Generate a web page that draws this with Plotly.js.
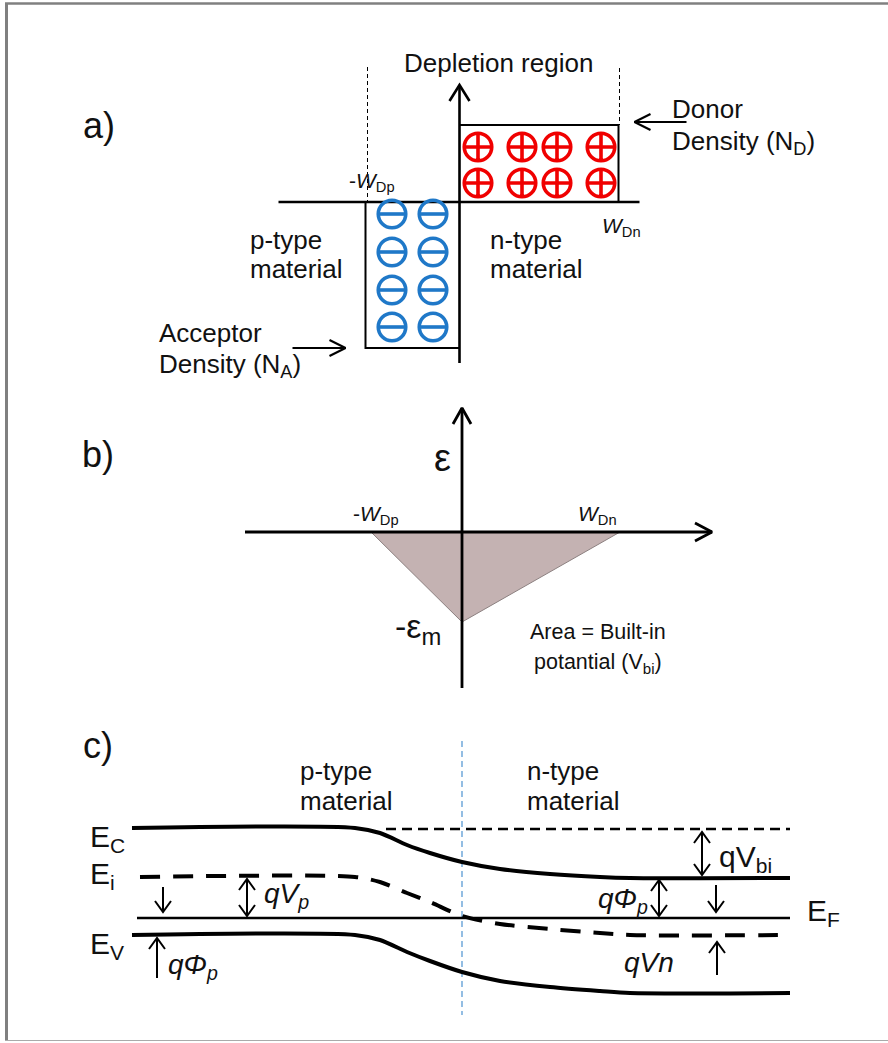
<!DOCTYPE html>
<html><head><meta charset="utf-8">
<script src="https://cdn.plot.ly/plotly-3.0.1.min.js"></script>
<style>html,body{margin:0;padding:0;background:#fff;overflow:hidden}</style>
</head><body><div id="chart" style="width:888px;height:1043px"></div>
<script>
// ===== Panel a: space-charge density (x: position from junction, y: charge density) =====
const depletionEdgesA = [-94, 159];      // -W_Dp , W_Dn
const chargeDensityA  = [-146, 77];      // -qN_A , +qN_D
const donorX    = [18.5, 62.5, 97.5, 141.5];
const donorY    = [55, 19];
const acceptorX = [-67.5, -26.5];
const acceptorY = [-12, -50, -88, -125];
const axisAx = [-181, 180];
const axisAy = [-161, 117];
const depletionMarkTop = 135;

// ===== Panel b: electric field =====
const fieldX = [-91, 0, 158];
const fieldE = [0, -90, 0];
const axisBx = [-217, 250];
const axisBy = [-156, 124];

// ===== Panel c: band diagram (energy relative to E_F) =====
const bandX  = [-330, -107, -82, -55, -32, 0, 38, 88, 138, 168, 328];
const Ec     = [90, 90, 85, 73, 65, 56, 49, 44, 41, 40, 40];
const Ei     = [41, 41, 36, 25, 16, 2, -6, -11, -15, -17, -17];
const Ev     = [-17, -17, -22, -34, -43, -54, -63, -69, -73, -75, -75];
const EFx    = [-325, 328];
const EF     = [0, 0];
const EcRefX = [-76, 328];
const EcRef  = [89, 89];
const junctionLineY = [177, -97];
// arrows: [x, fromLevel, toLevel, doubleHeaded]
const arrowsC = [
  [-299, 31, 6, false],
  [-215, 39, 2, true],
  [-305, -60, -20, false],
  [240, 86, 43, true],
  [197, 38, 2, true],
  [254, 33, 6, false],
  [255, -57, -24, false]
];

const FONT = 'Liberation Sans, Arial, sans-serif';
const W = 888, H = 1043;

function arrowPath(x0, y0, x1, y1, L, Wd, both) {
  const xs = [x0, x1, null], ys = [y0, y1, null];
  const head = (ax, ay, bx, by) => {
    const dx = bx - ax, dy = by - ay, n = Math.hypot(dx, dy), ux = dx / n, uy = dy / n;
    const px = -uy, py = ux;
    xs.push(bx - ux * L + px * Wd, bx, bx - ux * L - px * Wd, null);
    ys.push(by - uy * L + py * Wd, by, by - uy * L - py * Wd, null);
  };
  head(x0, y0, x1, y1);
  if (both) head(x1, y1, x0, y0);
  return {xs, ys};
}
function merge(list) {
  const xs = [], ys = [];
  list.forEach(p => { xs.push(...p.xs); ys.push(...p.ys); });
  return {xs, ys};
}
function line(xs, ys, xa, ya, width, color, dash, extra) {
  return Object.assign({type: 'scatter', mode: 'lines', x: xs, y: ys, xaxis: xa, yaxis: ya,
    line: {color: color || '#000', width: width, dash: dash || 'solid'}, hoverinfo: 'skip', cliponaxis: false}, extra || {});
}

const traces = [];

// ---- Panel a ----
const [wDp, wDn] = depletionEdgesA;
const [NA, ND] = chargeDensityA;
const aAx = merge([
  {xs: [axisAx[0], axisAx[1], null], ys: [0, 0, null]},
  arrowPath(0, axisAy[0], 0, axisAy[1], 16, 10, false)
]);
traces.push(line(aAx.xs, aAx.ys, 'x', 'y', 2.6));
traces.push(line([0, wDn, wDn, null, wDp, wDp, 0], [ND, ND, 0, null, 0, NA, NA], 'x', 'y', 2));
traces.push(line([wDp + 2, wDp + 2, null, wDn + 1, wDn + 1], [depletionMarkTop, 0, null, depletionMarkTop - 1, ND], 'x', 'y', 1, '#000', '4px,3px'));
const aPtr = merge([
  arrowPath(wDp - 73, NA, wDp - 20, NA, 16, 8, false),
  arrowPath(wDn + 68, ND + 3, wDn + 16, ND + 3, 16, 8, false)
]);
traces.push(line(aPtr.xs, aPtr.ys, 'x', 'y', 2.2));
const dX = [], dY = [], acX = [], acY = [];
donorY.forEach(y => donorX.forEach(x => { dX.push(x); dY.push(y); }));
acceptorY.forEach(y => acceptorX.forEach(x => { acX.push(x); acY.push(y); }));
traces.push({type: 'scatter', mode: 'markers', x: dX, y: dY, xaxis: 'x', yaxis: 'y', hoverinfo: 'skip',
  marker: {symbol: 'circle-cross-open', size: 27.5, color: '#f00000', line: {width: 3.6, color: '#f00000'}}});
traces.push({type: 'scatter', mode: 'markers', x: acX, y: acY, xaxis: 'x', yaxis: 'y', hoverinfo: 'skip',
  marker: {symbol: 'circle-open', size: 27.5, color: '#1f78c8', line: {width: 3.6, color: '#1f78c8'}}});
traces.push({type: 'scatter', mode: 'markers', x: acX, y: acY, xaxis: 'x', yaxis: 'y', hoverinfo: 'skip',
  marker: {symbol: 'line-ew-open', size: 19.5, color: '#1f78c8', line: {width: 3.6, color: '#1f78c8'}}});

// ---- Panel b ----
traces.push({type: 'scatter', mode: 'lines', x: fieldX.concat([fieldX[0]]), y: fieldE.concat([fieldE[0]]),
  xaxis: 'x2', yaxis: 'y2', fill: 'toself', fillcolor: '#c4b2b2', line: {color: '#8c8080', width: 1}, hoverinfo: 'skip'});
const bAx = merge([
  arrowPath(axisBx[0], 0, axisBx[1], 0, 17, 9, false),
  arrowPath(0, axisBy[0], 0, axisBy[1], 16, 9, false)
]);
traces.push(line(bAx.xs, bAx.ys, 'x2', 'y2', 2.8));

// ---- Panel c ----
traces.push(line([0, 0], junctionLineY, 'x2', 'y3', 1.3, '#5b9bd5', '6px,4px'));
traces.push(line(EcRefX, EcRef, 'x2', 'y3', 2.4, '#000', '10px,6px'));
traces.push(line(EFx, EF, 'x2', 'y3', 2.4));
traces.push(line(bandX, Ec, 'x2', 'y3', 4, '#000', 'solid', {line: {color: '#000', width: 4, shape: 'spline', smoothing: 0.8}}));
traces.push(line(bandX, Ev, 'x2', 'y3', 4, '#000', 'solid', {line: {color: '#000', width: 4, shape: 'spline', smoothing: 0.8}}));
traces.push(line([-322].concat(bandX.slice(1)), Ei, 'x2', 'y3', 4, '#000', 'solid',
  {line: {color: '#000', width: 4, shape: 'spline', smoothing: 0.8, dash: '20px,13px'}}));
const cArr = merge(arrowsC.map(a => arrowPath(a[0], a[1], a[0], a[2], 11, 8, a[3])));
traces.push(line(cArr.xs, cArr.ys, 'x2', 'y3', 2));

// ---- annotations ----
function lab(text, px, py, size, xa, ya, o) {
  o = o || {};
  return {text: text, x: px / W, y: 1 - py / H, xref: 'paper', yref: 'paper', showarrow: false,
    xanchor: xa || 'center', yanchor: ya || 'middle', align: o.align || 'left',
    font: {family: o.family || FONT, size: size, color: '#111'}};
}
const T = 26;
const annotations = [
  lab('a)', 99, 125, 36),
  lab('Depletion region', 498, 63, T),
  lab('Donor', 670, 109, T, 'left'),
  lab('Density (N<sub>D</sub>)', 670, 142, T, 'left'),
  lab('Acceptor', 157, 333, T, 'left'),
  lab('Density (N<sub>A</sub>)', 157, 366, T, 'left'),
  lab('p-type', 248, 240, T, 'left'),
  lab('material', 248, 269, T, 'left'),
  lab('n-type', 488, 240, T, 'left'),
  lab('material', 488, 269, T, 'left'),
  lab('-<i>W</i><sub>Dp</sub>', 372, 182, 21),
  lab('<i>W</i><sub>Dn</sub>', 621, 227, 21),

  lab('b)', 98, 455, 36),
  lab('ε', 442, 458, 38),
  lab('-<i>W</i><sub>Dp</sub>', 376, 515, 21),
  lab('<i>W</i><sub>Dn</sub>', 597, 515, 21),
  lab('-ε<sub>m</sub>', 418, 628, 34),
  lab('Area = Built-in', 598, 632, 21.5),
  lab('potantial (V<sub>bi</sub>)', 598, 663, 21.5),

  lab('c)', 98, 745, 36),
  lab('p-type', 298, 771, T, 'left'),
  lab('material', 298, 801, T, 'left'),
  lab('n-type', 525, 771, T, 'left'),
  lab('material', 525, 801, T, 'left'),
  lab('E<sub>C</sub>', 88, 838, 30, 'left'),
  lab('E<sub>i</sub>', 88, 875, 30, 'left'),
  lab('E<sub>V</sub>', 88, 945, 30, 'left'),
  lab('E<sub>F</sub>', 805, 912, 30, 'left'),
  lab('<i>qV<sub>p</sub></i>', 262, 895, 28, 'left'),
  lab('<i>qΦ<sub>p</sub></i>', 166, 966, 28, 'left'),
  lab('qV<sub>bi</sub>', 717, 858, 30, 'left'),
  lab('<i>qΦ<sub>p</sub></i>', 650, 900, 28, 'right'),
  lab('<i>qVn</i>', 676, 962, 28, 'right')
];

const shapes = [
  {type: 'line', xref: 'paper', yref: 'paper', x0: 6.5 / W, x1: 6.5 / W, y0: 1 - 3 / H, y1: 1 - 1041 / H, line: {color: '#808080', width: 3}},
  {type: 'line', xref: 'paper', yref: 'paper', x0: 5 / W, x1: 1, y0: 1 - 3.5 / H, y1: 1 - 3.5 / H, line: {color: '#808080', width: 2.5}},
  {type: 'line', xref: 'paper', yref: 'paper', x0: 5 / W, x1: 1, y0: 1 - 1040.5 / H, y1: 1 - 1040.5 / H, line: {color: '#aaaaaa', width: 1}}
];

const hid = {visible: false, fixedrange: true, showgrid: false, zeroline: false};
const layout = {
  width: W, height: H, margin: {l: 0, r: 0, t: 0, b: 0}, autosize: false,
  paper_bgcolor: '#ffffff', plot_bgcolor: 'rgba(0,0,0,0)', showlegend: false,
  xaxis: Object.assign({range: [-459.5, W - 459.5], domain: [0, 1]}, hid),
  xaxis2: Object.assign({range: [-462, W - 462], overlaying: 'x'}, hid),
  yaxis: Object.assign({range: [202 - H, 202], domain: [0, 1]}, hid),
  yaxis2: Object.assign({range: [532 - H, 532], overlaying: 'y'}, hid),
  yaxis3: Object.assign({range: [918 - H, 918], overlaying: 'y'}, hid),
  annotations: annotations,
  shapes: shapes
};
Plotly.newPlot('chart', traces, layout, {displayModeBar: false, staticPlot: true});
</script>
</body></html>
